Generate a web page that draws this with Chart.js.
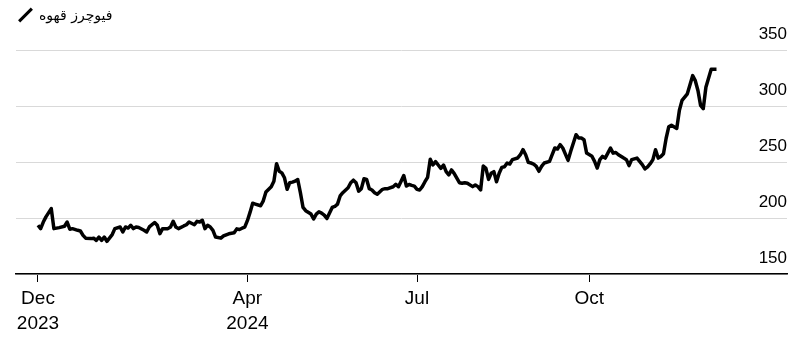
<!DOCTYPE html>
<html lang="fa">

<head>
    <meta charset="UTF-8">
    <title>فیوچرز قهوه</title>
    <style>
        body {
            margin: 0;
            background: #fff;
            font-family: "Liberation Sans", Arial, sans-serif;
        }

        .wrap {
            position: relative;
            width: 807px;
            height: 343px;
        }

        .legend {
            position: absolute;
            left: 18px;
            top: 5px;
            height: 20px;
            display: flex;
            align-items: center;
        }

        .legend .swatch {
            width: 3px;
            height: 18px;
            background: #000;
            transform: rotate(45deg);
            margin: 0 12px 0 6px;
        }

        .legend .label {
            font-family: "DejaVu Sans", sans-serif;
            font-size: 14px;
            color: #000;
        }
    </style>
</head>

<body>
    <div class="wrap">
        <canvas id="coffee" width="807" height="343"></canvas>
        <div class="legend"><span class="swatch"></span><span class="label" dir="rtl">فیوچرز قهوه</span></div>
    </div>
    <script src="https://cdn.jsdelivr.net/npm/chart.js"></script>
    <script>
        // trading session number, counted from the first session in Dec 2023
        const days = [
            0, 1, 2, 3, 5, 6, 8, 10, 11, 12, 13, 15, 16, 17, 18, 20, 21, 22, 23, 24, 25, 26, 28, 29, 31, 32, 33, 34,
            35, 36, 37, 38, 40, 41, 42, 44, 45, 46, 47, 49, 50, 51, 52, 53, 55, 56, 57, 59, 60, 61, 62, 63, 64, 65, 66, 67, 69,
            70, 71, 72, 74, 75, 76, 77, 78, 79, 80, 81, 82, 84, 85, 86, 88, 89, 90, 91, 92, 93, 94, 95, 96, 97, 98, 99, 100, 101, 103, 104, 105, 106,
            107, 108, 109, 111, 112, 113, 114, 115, 117, 118, 119, 120, 121, 122, 123, 124, 125, 126, 127, 128, 130, 131, 132, 134, 135, 136, 137, 138, 139, 140, 141,
            142, 143, 144, 145, 146, 147, 148, 149, 150, 151, 152, 153, 154, 155, 156, 157, 159, 160, 161, 162, 164, 165, 166, 167, 168, 169, 170, 171, 172, 173, 174, 175, 176,
            177, 178, 179, 181, 182, 183, 184, 185, 186, 187, 188, 189, 190, 191, 193, 194, 195, 196, 197, 198, 200, 201, 202, 203, 204, 205, 206, 207, 209, 210, 211, 212,
            213, 214, 215, 216, 217, 218, 219, 221, 222, 223, 224, 226, 227, 228, 229, 230, 231, 232, 233, 234, 235, 236, 237, 238, 239, 241, 242, 243, 244, 245, 247, 248, 249, 250, 251, 252, 254, 256
        ];
        const prices = [
            193.5, 190.5, 196.4, 201, 208.4, 190.5, 191.4, 192.6, 196.4, 190, 190.5, 189, 188.4, 184.5, 182, 181.6, 182, 180, 183, 180, 183, 179.2, 185.2, 190.5, 192, 187.5, 192, 191,
            193.5, 190.5, 192, 191.5, 189, 187.5, 192, 196, 193.5, 186, 190.5, 190.5, 192, 197, 192, 190.5, 192.9, 194, 196.4, 194, 197, 196.4, 198, 190.5, 193.5, 192, 189, 183, 182,
            184, 185, 185.9, 186.8, 190.3, 189.7, 190.9, 191.8, 197.6, 205, 213.2, 212.4, 210.9, 215.3, 223.2, 227.9, 232.9, 248.5, 241.8, 240.3, 235.9, 225.6, 231.5, 232, 232.9, 234.4, 222.6, 209.4, 206.5, 203.5, 199.1, 203.5, 205.6,
            204.4, 202.6, 199.5, 209.4, 210.3, 212.4, 219.7, 222.6, 227, 231.5, 233.8, 231.5, 224, 226.2, 235, 234.4, 226.2, 225, 222.6, 221.2, 225.6, 226.2, 226.2, 227.9, 230, 227.9, 232.9, 237.9, 228.5, 230, 229.1,
            228.5, 225.6, 225, 228, 232.4, 236.3, 252.4, 247.3, 250.3, 247.3, 244.3, 247.3, 241.4, 238.4, 242.9, 239.9, 231.5, 231, 231.5, 231, 228, 229.5, 228, 225, 246.4, 244.3, 234.5, 239.9, 241.4, 232.4, 239.9, 245.2, 245.8,
            249, 248.2, 252.1, 253.6, 256.5, 261, 256.5, 249.7, 249.1, 248.2, 246.1, 241.7, 246.1, 249.1, 250.6, 256.5, 262.5, 261.6, 265.5, 262.5, 251.5, 259.5, 267, 274.4, 271.4, 271.4, 269.9, 258, 255.1, 250.6, 244.6, 252.1,
            255, 253.5, 257.9, 262.4, 257.9, 258.5, 256.5, 253.5, 252.1, 246.8, 252.1, 253.5, 250.6, 247.6, 243.8, 245.6, 248.5, 252.1, 260.9, 253.5, 255, 257.4, 271.2, 281.5, 282.9, 280, 296.2, 305, 307.9, 310.9, 327.1, 322.6, 313.8, 300.6, 297.6, 316.8, 332.9, 332.9
        ];
        const tickDays = [0, 79, 143, 208];
        const tickLabels = [['Dec', '2023'], ['Apr', '2024'], ['Jul'], ['Oct']];
        const yTicks = [150, 200, 250, 300, 350];

        const points = days.map((d, i) => ({ x: d, y: prices[i] }));

        const ctx = document.getElementById('coffee').getContext('2d');
        new Chart(ctx, {
            type: 'line',
            data: {
                datasets: [{
                    label: 'فیوچرز قهوه',
                    data: points,
                    borderColor: '#000',
                    borderWidth: 3.5,
                    borderJoinStyle: 'round',
                    pointRadius: 0,
                    tension: 0,
                    fill: false
                }]
            },
            options: {
                responsive: false,
                animation: false,
                layout: { padding: { left: 16, top: 50, right: 0, bottom: 0 } },
                plugins: {
                    legend: { display: false },
                    tooltip: { enabled: false }
                },
                scales: {
                    x: {
                        type: 'linear',
                        min: -8.3,
                        max: 282.6,
                        afterFit: s => { s.height = 69; },
                        afterBuildTicks: s => { s.ticks = tickDays.map(v => ({ value: v })); },
                        grid: {
                            drawOnChartArea: false,
                            drawTicks: true,
                            tickLength: 8,
                            color: '#000',
                            lineWidth: 1
                        },
                        border: { display: true, color: '#000', width: 1.5 },
                        ticks: {
                            autoSkip: false,
                            maxRotation: 0,
                            padding: 4,
                            color: '#000',
                            font: { family: '"Liberation Sans Narrow", "Liberation Sans", Arial', size: 19, lineHeight: 1.32 },
                            callback: v => {
                                const i = tickDays.indexOf(v);
                                return i >= 0 ? tickLabels[i] : '';
                            }
                        }
                    },
                    y: {
                        position: 'right',
                        min: 150,
                        max: 350,
                        afterFit: s => { s.width = 20; },
                        afterBuildTicks: s => { s.ticks = yTicks.map(v => ({ value: v })); },
                        grid: {
                            color: '#d9d9d9',
                            lineWidth: 1,
                            drawTicks: false
                        },
                        border: { display: false },
                        ticks: {
                            mirror: true,
                            padding: 0,
                            labelOffset: -16,
                            color: '#000',
                            font: { family: '"Liberation Sans", Arial', size: 17 }
                        }
                    }
                }
            }
        });
    </script>
</body>

</html>
